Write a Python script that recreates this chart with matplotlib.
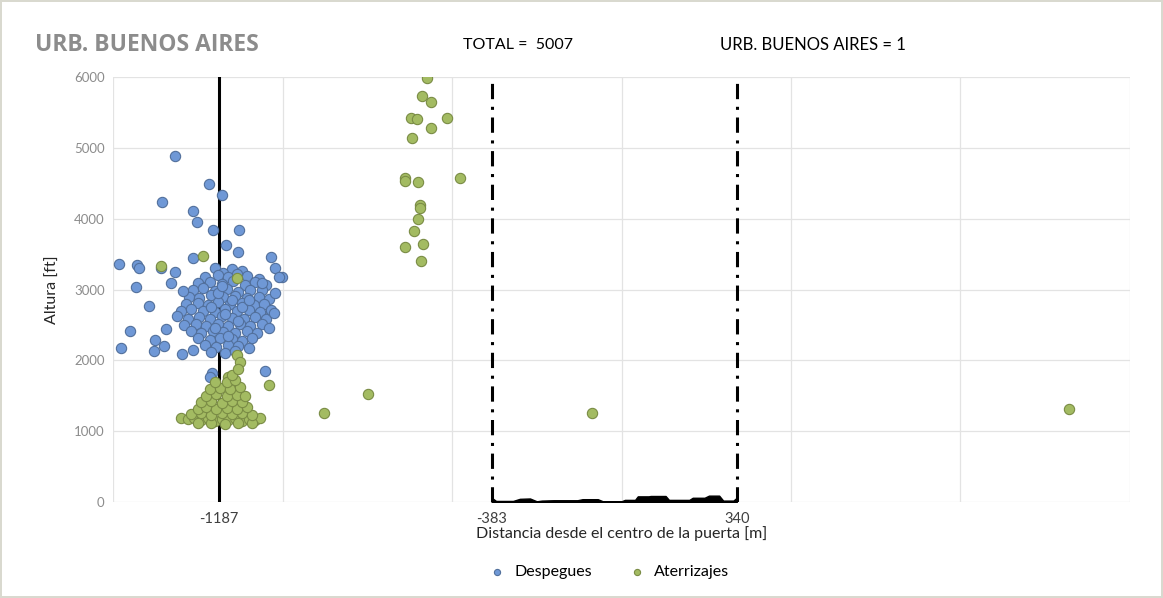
import matplotlib.pyplot as plt
import numpy as np
from matplotlib.ticker import MultipleLocator, FixedLocator

# data
gate_lines = [-1187, -383, 340]

desp_x = [
    -1200, -1150, -1120, -1175,
    -1230, -1190, -1160, -1105, -1070, -1135,
    -1250, -1215, -1180, -1145, -1110, -1080, -1050,
    -1265, -1235, -1200, -1165, -1130, -1095, -1060,
    -1275, -1245, -1210, -1175, -1140, -1105, -1070, -1040,
    -1285, -1250, -1220, -1190, -1155, -1120, -1085, -1055,
    -1300, -1270, -1235, -1200, -1170, -1135, -1100, -1065, -1035,
    -1310, -1280, -1245, -1215, -1180, -1150, -1115, -1080, -1050,
    -1290, -1255, -1225, -1190, -1160, -1125, -1095, -1060,
    -1270, -1240, -1205, -1175, -1140, -1105, -1075,
    -1250, -1215, -1185, -1150, -1120, -1090,
    -1230, -1195, -1160, -1130, -1100,
    -1210, -1170, -1140,
    -1190, -1150, -1210, -1170, -1130, -1200, -1160, -1120, -1100, -1180,
    -1316, -1217, -1180, -1355, -1265, -1251, -1206, -1129, -1168, -1132,
    -1265, -1033, -1483, -1429, -1424, -1316, -1021, -1003, -1432, -1330,
    -1294, -1394, -1451, -1345, -1478, -1375, -1380, -1350, -1296, -1265,
    -1060, -1023, -1011, -1040, -1033, -1026, -1052, -1207, -1215, -1360,
]
desp_y = [
    3310, 3290, 3260, 3240,
    3180, 3200, 3170, 3190, 3150, 3220,
    3090, 3110, 3080, 3120, 3070, 3100, 3060,
    2990, 3020, 2980, 3010, 2970, 3000, 2990,
    2900, 2880, 2920, 2890, 2910, 2880, 2900, 2870,
    2790, 2810, 2780, 2820, 2790, 2810, 2780, 2800,
    2690, 2720, 2700, 2680, 2720, 2690, 2710, 2680, 2700,
    2620, 2590, 2610, 2580, 2620, 2600, 2580, 2610, 2590,
    2500, 2520, 2490, 2510, 2480, 2510, 2490, 2510,
    2410, 2390, 2420, 2400, 2380, 2410, 2390,
    2310, 2290, 2320, 2300, 2280, 2310,
    2210, 2190, 2220, 2200, 2180,
    2120, 2100, 2130,
    2950, 2850, 2750, 2650, 2550, 2450, 2350, 2750, 2850, 3050,
    4887, 4491, 4336, 4242, 4114, 3959, 3842, 3842, 3630, 3527,
    3442, 3465, 3362, 3347, 3300, 3253, 3300, 3178, 3032, 3089,
    2985, 2768, 2420, 2439, 2171, 2288, 2137, 2203, 2090, 2147,
    3089, 2948, 3182, 2453, 2712, 2665, 1850, 1818, 1760, 3300,
]

ater_x = [
    -573, -590, -563, -620, -603, -514, -563, -617, -475, -640,
    -638, -601, -595, -595, -601, -613, -638, -585, -591,
    -879, -749, -86, 1319, -1235, -1360, -1134, -1040, -1134, -1124, -1160,
    -1300, -1280, -1260, -1240, -1220, -1200, -1180, -1160, -1140, -1120, -1100, -1080, -1065,
    -1250, -1210, -1170, -1130, -1090,
    -1270, -1240, -1210, -1180, -1150, -1120, -1090,
    -1250, -1225, -1195, -1165, -1135, -1105,
    -1240, -1210, -1180, -1150, -1120,
    -1225, -1195, -1165, -1135, -1110,
    -1215, -1185, -1155, -1125,
    -1200, -1165, -1140,
    -1150, -1130,
]
ater_y = [
    5993, 5734, 5654, 5428, 5410, 5428, 5287, 5145, 4580, 4572,
    4534, 4515, 4195, 4157, 3993, 3832, 3606, 3640, 3404,
    1257, 1525, 1257, 1314, 3475, 3333, 3160, 1653, 2076, 1982, 1760,
    1180, 1170, 1190, 1160, 1180, 1150, 1170, 1160, 1180, 1150, 1170, 1160, 1180,
    1110, 1120, 1100, 1110, 1120,
    1240, 1260, 1230, 1250, 1240, 1260, 1230,
    1320, 1340, 1310, 1330, 1320, 1340,
    1410, 1430, 1400, 1420, 1410,
    1500, 1520, 1490, 1510, 1500,
    1590, 1610, 1600, 1620,
    1700, 1690, 1720,
    1800, 1880,
]

# terrain / gate profile between the two gate limits
prof_x = [-383, -370, -320, -300, -270, -250, -235, -200, -130, -115, -70, -55,
          0, 10, 40, 48, 80, 86, 130, 140, 200, 210, 245, 258, 288, 300, 330, 340]
prof_y = [60, 15, 15, 45, 50, 10, 20, 25, 25, 40, 40, 10,
          10, 30, 30, 80, 80, 85, 85, 30, 30, 60, 60, 90, 90, 20, 20, 60]

fig = plt.figure(figsize=(11.63, 5.98), dpi=100)
fig.patch.set_edgecolor('#d9d9cf')
fig.patch.set_linewidth(1.5)
ax = fig.add_axes([0.0972, 0.1605, 0.8744, 0.7107])

ax.axvline(gate_lines[0], color='black', lw=2.2, zorder=2)
for g in gate_lines[1:]:
    ax.axvline(g, color='black', lw=2.2, ls=(0, (5, 2.5, 1, 2.5)), zorder=2)
ax.fill_between(prof_x, 0, prof_y, color='black', lw=1, zorder=2)

ax.scatter(desp_x, desp_y, s=55, c='#6f98d6', edgecolors='#52709c', linewidths=0.8,
           zorder=3, label='Despegues')
ax.scatter(ater_x, ater_y, s=55, c='#a3bb62', edgecolors='#7a8c45', linewidths=0.8,
           zorder=4, label='Aterrizajes')

ax.set_xlim(-1500, 1500)
ax.set_ylim(0, 6000)
ax.xaxis.set_major_locator(FixedLocator(gate_lines))
ax.set_xticklabels([str(g) for g in gate_lines], fontsize=10.5, color='#404040', family='Lato')
ax.xaxis.set_minor_locator(MultipleLocator(500))
ax.yaxis.set_major_locator(MultipleLocator(1000))
for lbl in ax.get_yticklabels():
    lbl.set_fontsize(9.5)
    lbl.set_color('#8c8c8c')
    lbl.set_family('Lato')
ax.tick_params(which='both', length=0)
ax.tick_params(axis='x', pad=7)
ax.tick_params(axis='y', pad=6)
ax.grid(True, axis='x', which='minor', color='#e3e3e3', lw=0.9)
ax.grid(True, axis='y', which='major', color='#e3e3e3', lw=0.9)
ax.set_axisbelow(True)
for s in ax.spines.values():
    s.set_visible(False)

ax.set_xlabel('Distancia desde el centro de la puerta [m]', fontsize=11.5, family='Lato',
              color='#262626', labelpad=0)
ax.set_ylabel('Altura [ft]', fontsize=11.5, family='Lato', color='#262626', labelpad=10)

fig.text(0.030, 0.925, 'URB. BUENOS AIRES', fontsize=16.5, fontweight='bold', color='#8c8c8c',
         family='Open Sans', va='center')
fig.text(0.398, 0.925, 'TOTAL =  5007', fontsize=11.5, color='black', family='Lato', va='center')
fig.text(0.619, 0.925, 'URB. BUENOS AIRES = 1', fontsize=12, color='black', family='Lato',
         va='center')

ax.legend(loc='center', bbox_to_anchor=(0.484, -0.165), ncol=2, frameon=False,
          prop={'family': 'Lato', 'size': 11.5}, handletextpad=0.1, columnspacing=1.8,
          markerscale=0.6)

plt.savefig('out.png', dpi=100)
